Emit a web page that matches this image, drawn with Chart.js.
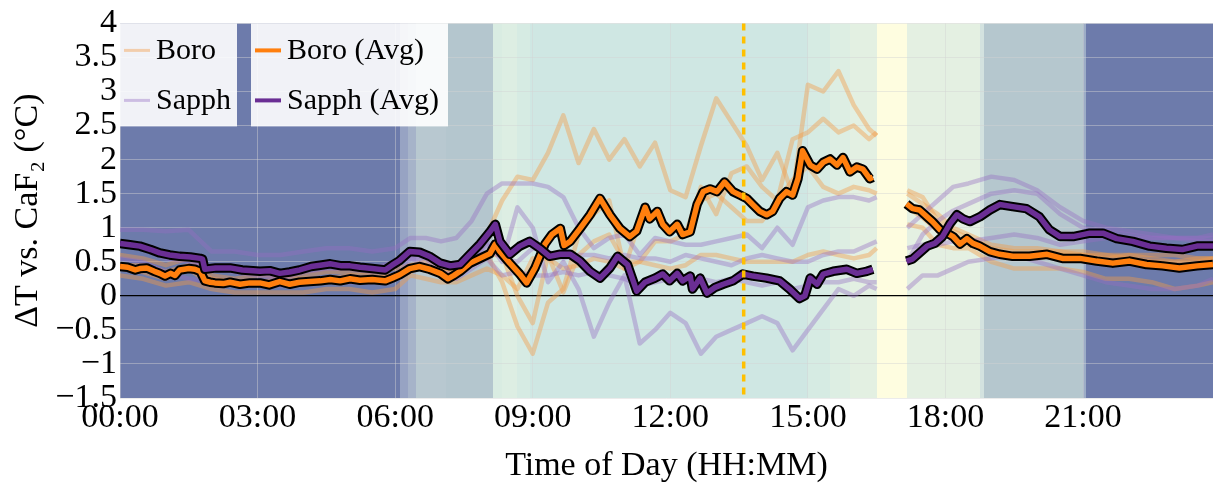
<!DOCTYPE html>
<html><head><meta charset="utf-8">
<script src="https://cdn.jsdelivr.net/npm/chart.js@4.4.0/dist/chart.umd.min.js"></script>
<style>html,body{margin:0;padding:0;background:#fff;}#wrap{width:1213px;height:486px;}</style>
</head><body><div id="wrap"><canvas id="c" width="1213" height="486"></canvas></div>
<script>
// ---------- DATA (minutes since midnight) ----------
const xTickValues = [0,180,360,540,720,900,1080,1260];
const xTickLabels = ['00:00','03:00','06:00','09:00','12:00','15:00','18:00','21:00'];
const yTickValues = [-1.5,-1,-0.5,0,0.5,1,1.5,2,2.5,3,3.5,4];
const yTickLabels = ['\u22121.5','\u22121','\u22120.5','0','0.5','1','1.5','2','2.5','3','3.5','4'];
const eventMinute = 816;

const indTimes = [0,30,60,90,120,150,180,210,240,270,300,330,360,
 380,400,420,440,460,480,500,520,540,560,580,600,620,640,660,680,700,720,740,760,780,800,820,840,860,880,900,920,940,960,980,990,
 1010,
 1030,1050,1070,1090,1110,1140,1170,1200,1230,1260,1290,1320,1350,1380,1410,1430];

const boro1 = [0.6,0.55,0.45,0.55,0.3,0.25,0.3,0.3,0.3,0.35,0.35,0.35,0.4,
 0.45,0.5,0.4,0.4,0.55,0.9,1.4,1.75,1.7,2.1,2.65,1.95,2.45,2.0,2.3,1.9,2.25,1.55,1.45,2.2,2.9,2.55,2.2,1.7,2.1,1.5,3.1,3.0,3.3,2.8,2.45,2.35,
 null,
 1.55,1.45,1.1,0.95,0.85,0.7,0.65,0.65,0.65,0.65,0.6,0.55,0.5,0.5,0.5,0.55];
const boro2 = [0.45,0.45,0.35,0.45,0.25,0.2,0.2,0.25,0.25,0.25,0.3,0.3,0.3,
 0.45,0.45,0.35,0.35,0.5,0.6,0.2,-0.45,-0.85,-0.1,0.1,0.9,1.2,1.4,0.4,1.1,1.2,1.0,0.9,1.6,1.2,1.8,1.9,1.6,1.4,2.3,2.4,2.6,2.4,2.5,2.3,2.4,
 null,
 1.5,1.35,1.2,1.0,0.9,0.75,0.7,0.7,0.65,0.6,0.55,0.6,0.55,0.5,0.55,0.55];
const boro3 = [0.4,0.35,0.25,0.4,0.15,0.2,0.2,0.2,0.2,0.25,0.25,0.25,0.3,
 0.35,0.45,0.35,0.35,0.45,0.6,0.6,0.0,-0.4,0.6,0.05,0.6,0.8,0.9,0.5,0.5,0.8,0.8,0.9,1.4,1.5,1.3,1.1,1.1,1.4,1.7,1.9,1.6,1.5,1.6,1.55,1.5,
 null,
 1.3,1.15,0.95,0.85,0.75,0.65,0.6,0.55,0.6,0.6,0.6,0.6,0.6,0.6,0.55,0.55];
const boro4 = [0.3,0.25,0.15,0.2,0.1,0.05,0.05,0.05,0.05,0.1,0.1,0.05,0.1,
 0.3,0.25,0.2,0.2,0.3,0.4,0.3,0.1,0.55,0.55,0.4,0.45,0.55,0.5,0.4,0.5,0.45,0.4,0.45,0.6,0.6,0.55,0.5,0.5,0.5,0.5,0.6,0.65,0.6,0.55,0.6,0.7,
 null,
 1.05,1.0,0.75,0.7,0.7,0.5,0.4,0.4,0.4,0.35,0.25,0.25,0.2,0.1,0.15,0.2];

const sapph1 = [0.97,0.97,0.95,0.97,0.65,0.65,0.6,0.6,0.65,0.7,0.7,0.65,0.7,
 0.85,0.85,0.8,0.85,1.1,1.5,1.65,1.65,1.65,1.6,1.45,1.0,0.7,0.85,0.9,0.6,0.85,0.8,0.75,0.75,0.8,0.85,0.9,0.7,1.0,0.75,1.3,1.4,1.45,1.45,1.4,1.45,
 null,
 1.0,1.2,1.4,1.6,1.65,1.75,1.7,1.55,1.3,1.1,1.0,0.95,0.9,0.85,0.85,0.85];
const sapph2 = [0.8,0.7,0.55,0.5,0.4,0.4,0.35,0.3,0.4,0.5,0.45,0.4,0.5,
 0.55,0.55,0.35,0.3,0.5,0.8,0.5,1.3,1.0,0.2,0.5,0.1,-0.6,-0.1,0.3,-0.7,-0.5,-0.25,-0.4,-0.85,-0.6,-0.5,-0.4,-0.3,-0.4,-0.8,-0.5,-0.2,0.1,0.0,0.15,0.1,
 null,
 0.5,0.9,1.1,1.25,1.35,1.5,1.55,1.5,1.2,1.0,0.95,0.9,0.85,0.85,0.85,0.9];
const sapph3 = [0.75,0.7,0.6,0.55,0.4,0.35,0.3,0.25,0.35,0.4,0.4,0.35,0.45,
 0.6,0.55,0.45,0.4,0.5,0.75,0.55,0.5,0.7,0.65,0.55,0.6,0.6,0.55,0.6,0.55,0.55,0.5,0.6,0.55,0.5,0.45,0.55,0.6,0.55,0.5,0.5,0.6,0.65,0.65,0.75,0.8,
 null,
 0.7,0.75,0.75,0.8,0.8,0.85,0.9,0.85,0.75,0.8,0.85,0.85,0.85,0.85,0.8,0.8];
const sapph4 = [0.55,0.5,0.35,0.25,0.2,0.2,0.2,0.15,0.2,0.25,0.2,0.2,0.25,
 0.55,0.45,0.3,0.25,0.4,0.55,0.3,0.35,0.3,0.3,0.35,0.3,0.35,0.3,0.25,0.15,0.2,0.25,0.2,0.25,0.2,0.25,0.2,0.15,0.2,0.1,0.15,0.2,0.2,0.25,0.2,0.2,
 null,
 0.1,0.3,0.3,0.4,0.5,0.55,0.6,0.5,0.4,0.3,0.2,0.15,0.1,0.1,0.15,0.25];

const boroAvgTimes = [0,10,20,26,35,45,52,59,66,72,78,90,98,105,111,118,124,135,144,157,
 170,183,195,209,222,235,248,262,275,288,301,314,330,347,356,366,379,392,405,419,
 429,437,445,458,471,484,491,497,510,523,532,543,556,565,576,581,589,602,615,628,
 641,654,667,676,687,693,703,710,719,729,736,746,755,763,772,781,791,802,811,820,
 828,837,846,854,863,872,880,887,893,903,912,920,929,938,946,955,964,972,981,985,
 1005,
 1029,1037,1046,1056,1063,1073,1082,1090,1099,1108,1116,1125,1138,1151,1168,1190,1213,1233,1256,1278,
 1299,1321,1343,1364,1386,1409,1430];
const boroAvgValues = [0.43,0.42,0.38,0.40,0.41,0.36,0.33,0.29,0.33,0.30,0.38,0.40,0.39,0.36,0.22,0.20,0.19,0.18,0.20,0.17,
 0.19,0.19,0.16,0.21,0.17,0.20,0.21,0.22,0.24,0.22,0.25,0.23,0.24,0.22,0.26,0.31,0.40,0.43,0.39,0.33,
 0.25,0.30,0.36,0.48,0.55,0.62,0.76,0.65,0.48,0.32,0.19,0.41,0.76,0.90,0.99,0.74,0.80,0.99,1.19,1.43,
 1.19,0.99,0.87,0.95,1.30,1.13,1.24,1.05,0.94,1.05,0.90,0.94,1.34,1.53,1.57,1.53,1.67,1.53,1.48,1.43,
 1.34,1.24,1.19,1.24,1.43,1.53,1.48,1.72,2.13,1.92,1.86,1.96,2.01,1.92,2.03,1.82,1.89,1.86,1.72,1.74,
 null,
 1.35,1.28,1.26,1.16,1.09,0.97,0.92,0.87,0.76,0.84,0.77,0.73,0.65,0.61,0.58,0.58,0.61,0.55,0.55,0.51,
 0.48,0.51,0.46,0.44,0.41,0.44,0.46];

const sapphAvgTimes = [0,13,26,40,52,65,78,92,105,108,111,125,144,160,183,196,209,222,235,250,
 262,275,290,301,314,330,347,356,366,379,392,405,419,432,445,458,471,484,491,497,
 510,523,536,549,562,576,589,602,615,628,641,651,664,676,687,700,710,719,729,736,
 746,749,759,768,778,789,802,815,828,846,863,876,889,896,903,912,920,933,951,964,
 977,985,
 1005,
 1029,1037,1046,1056,1066,1076,1086,1095,1103,1112,1125,1138,1151,1168,1186,1203,1216,1230,1247,1269,
 1286,1304,1325,1347,1369,1390,1409,1430];
const sapphAvgValues = [0.77,0.75,0.73,0.68,0.63,0.60,0.58,0.57,0.55,0.54,0.39,0.41,0.41,0.38,0.36,0.37,0.33,0.35,0.38,0.43,
 0.45,0.47,0.44,0.44,0.42,0.40,0.38,0.45,0.52,0.65,0.64,0.58,0.48,0.44,0.46,0.61,0.76,0.94,1.05,0.80,
 0.61,0.73,0.80,0.70,0.58,0.61,0.61,0.51,0.36,0.26,0.41,0.58,0.46,0.07,0.20,0.26,0.32,0.22,0.33,0.22,
 0.29,0.10,0.26,0.04,0.12,0.17,0.22,0.32,0.29,0.26,0.22,0.10,-0.04,0.00,0.26,0.17,0.32,0.36,0.39,0.33,
 0.36,0.39,
 null,
 0.51,0.54,0.63,0.73,0.77,0.87,1.06,1.19,1.13,1.09,1.16,1.26,1.34,1.31,1.28,1.16,0.97,0.87,0.87,0.92,
 0.92,0.84,0.80,0.73,0.70,0.68,0.73,0.73];

// daylight condition bands (minutes)
const bandStarts = [0,366,377,387,426,488,500,520,536,900,929,955,990,1029,1125,1131,1260,1264];
const bandEnds   = [366,377,387,426,488,500,520,536,900,929,955,990,1029,1125,1131,1260,1264,1430];

// ---------- STYLE ----------
const bandColors = ['#6D7BAB','#97A3C3','#A6B3C9','#B8C8D0','#B4C6CE','#D9ECE2','#DDEEE3','#D6EBE3','#CFE7E3','#D6EBE3','#DDEEE3','#E3F0E2','#FEFDE0','#E4F0E2','#D3E2DF','#B5C7CE','#9CACC6','#6D7BAB'];
const FONT = "'Liberation Serif','Times New Roman',serif";
const BORO_LIGHT = 'rgba(244,154,70,0.42)';
const SAPPH_LIGHT = 'rgba(150,110,195,0.40)';
const BORO_DARK = '#FF7F0E';
const SAPPH_DARK = '#6A2E94';

function pts(times, vals){ return times.map((t,i)=>({x:t, y:vals[i]})); }

const datasets = [];
function add(label, times, vals, color, width, order){
  datasets.push({label, data: pts(times, vals), borderColor: color, borderWidth: width,
    pointRadius: 0, tension: 0, spanGaps: false, fill: false, order,
    borderJoinStyle: 'round', borderCapStyle: 'butt'});
}
add('Sapph (Avg)', sapphAvgTimes, sapphAvgValues, SAPPH_DARK, 5.5, 0);
add('sapph-outline', sapphAvgTimes, sapphAvgValues, '#000', 9.5, 1);
add('Boro (Avg)', boroAvgTimes, boroAvgValues, BORO_DARK, 5.5, 2);
add('boro-outline', boroAvgTimes, boroAvgValues, '#000', 9.5, 3);
[sapph1,sapph2,sapph3,sapph4].forEach(s=>add('Sapph', indTimes, s, SAPPH_LIGHT, 4.5, 4));
[boro1,boro2,boro3,boro4].forEach(s=>add('Boro', indTimes, s, BORO_LIGHT, 4.5, 5));

const bandsPlugin = {
  id: 'bands',
  beforeDraw(chart){
    const {ctx, chartArea:a, scales:{x}} = chart;
    ctx.save();
    for (let i=0;i<bandStarts.length;i++){
      const x0 = Math.round(x.getPixelForValue(bandStarts[i]));
      const x1 = Math.round(x.getPixelForValue(bandEnds[i]));
      ctx.fillStyle = bandColors[i];
      ctx.fillRect(x0, a.top, Math.max(x1 - x0, 1), a.bottom - a.top);
    }
    ctx.restore();
  }
};

const overlayPlugin = {
  id: 'overlay',
  afterDatasetsDraw(chart){
    const {ctx, chartArea:a, scales:{x}} = chart;
    ctx.save();
    const ex = x.getPixelForValue(eventMinute);
    ctx.strokeStyle = '#FFC000';
    ctx.lineWidth = 3.5;
    ctx.setLineDash([7,6]);
    ctx.beginPath(); ctx.moveTo(ex, a.top); ctx.lineTo(ex, a.bottom); ctx.stroke();
    ctx.setLineDash([]);
    const boxes = [
      {x: a.left, w: 117, items: [['Boro', BORO_LIGHT, 3], ['Sapph', SAPPH_LIGHT, 3]]},
      {x: a.left + 131, w: 197, items: [['Boro (Avg)', BORO_DARK, 4], ['Sapph (Avg)', SAPPH_DARK, 4]]}
    ];
    const top = a.top, h = 103;
    ctx.font = '30px ' + FONT;
    ctx.textBaseline = 'middle';
    boxes.forEach(b=>{
      ctx.fillStyle = 'rgba(255,255,255,0.9)';
      ctx.fillRect(b.x, top, b.w, h);
      b.items.forEach((it, j)=>{
        const yy = top + 27 + j*50;
        ctx.strokeStyle = it[1]; ctx.lineWidth = it[2];
        ctx.beginPath(); ctx.moveTo(b.x + 4, yy); ctx.lineTo(b.x + 30, yy); ctx.stroke();
        ctx.fillStyle = '#000';
        ctx.fillText(it[0], b.x + 36, yy + 1);
      });
    });
    ctx.restore();
  }
};

Chart.defaults.font.family = FONT;
new Chart(document.getElementById('c'), {
  type: 'line',
  data: { datasets },
  options: {
    responsive: false, animation: false, devicePixelRatio: 1,
    layout: { padding: { top: 20, right: 0, left: 0, bottom: 0 } },
    plugins: { legend: { display: false }, tooltip: { enabled: false } },
    scales: {
      x: {
        type: 'linear', min: 0, max: 1430,
        afterBuildTicks: s => { s.ticks = xTickValues.map(v=>({value:v})); },
        afterFit: s => { s.height = 88; },
        ticks: { callback: (v, i) => xTickLabels[i], color: '#000', font: { size: 34 }, padding: 0, maxRotation: 0, autoSkip: false },
        grid: { color: 'rgba(210,210,210,0.45)', lineWidth: 1, drawTicks: false },
        border: { display: false },
        title: { display: true, text: 'Time of Day (HH:MM)', color: '#000', font: { size: 34 }, padding: { top: 0, bottom: 0 } }
      },
      y: {
        min: -1.5, max: 4,
        afterBuildTicks: s => { s.ticks = yTickValues.map(v=>({value:v})); },
        afterFit: s => { s.width = 120; },
        ticks: { callback: (v, i) => yTickLabels[i], color: '#000', font: { size: 34 }, padding: 3, autoSkip: false },
        grid: { color: c => c.tick && c.tick.value === 0 ? '#000' : 'rgba(210,210,210,0.45)', lineWidth: c => c.tick && c.tick.value === 0 ? 1.3 : 1, drawTicks: false },
        border: { display: false },
        title: { display: true, text: '\u0394T vs. CaF\u2082 (\u00B0C)', color: '#000', font: { size: 34 }, padding: { top: 8, bottom: 0 } }
      }
    }
  },
  plugins: [bandsPlugin, overlayPlugin]
});
</script></body></html>
